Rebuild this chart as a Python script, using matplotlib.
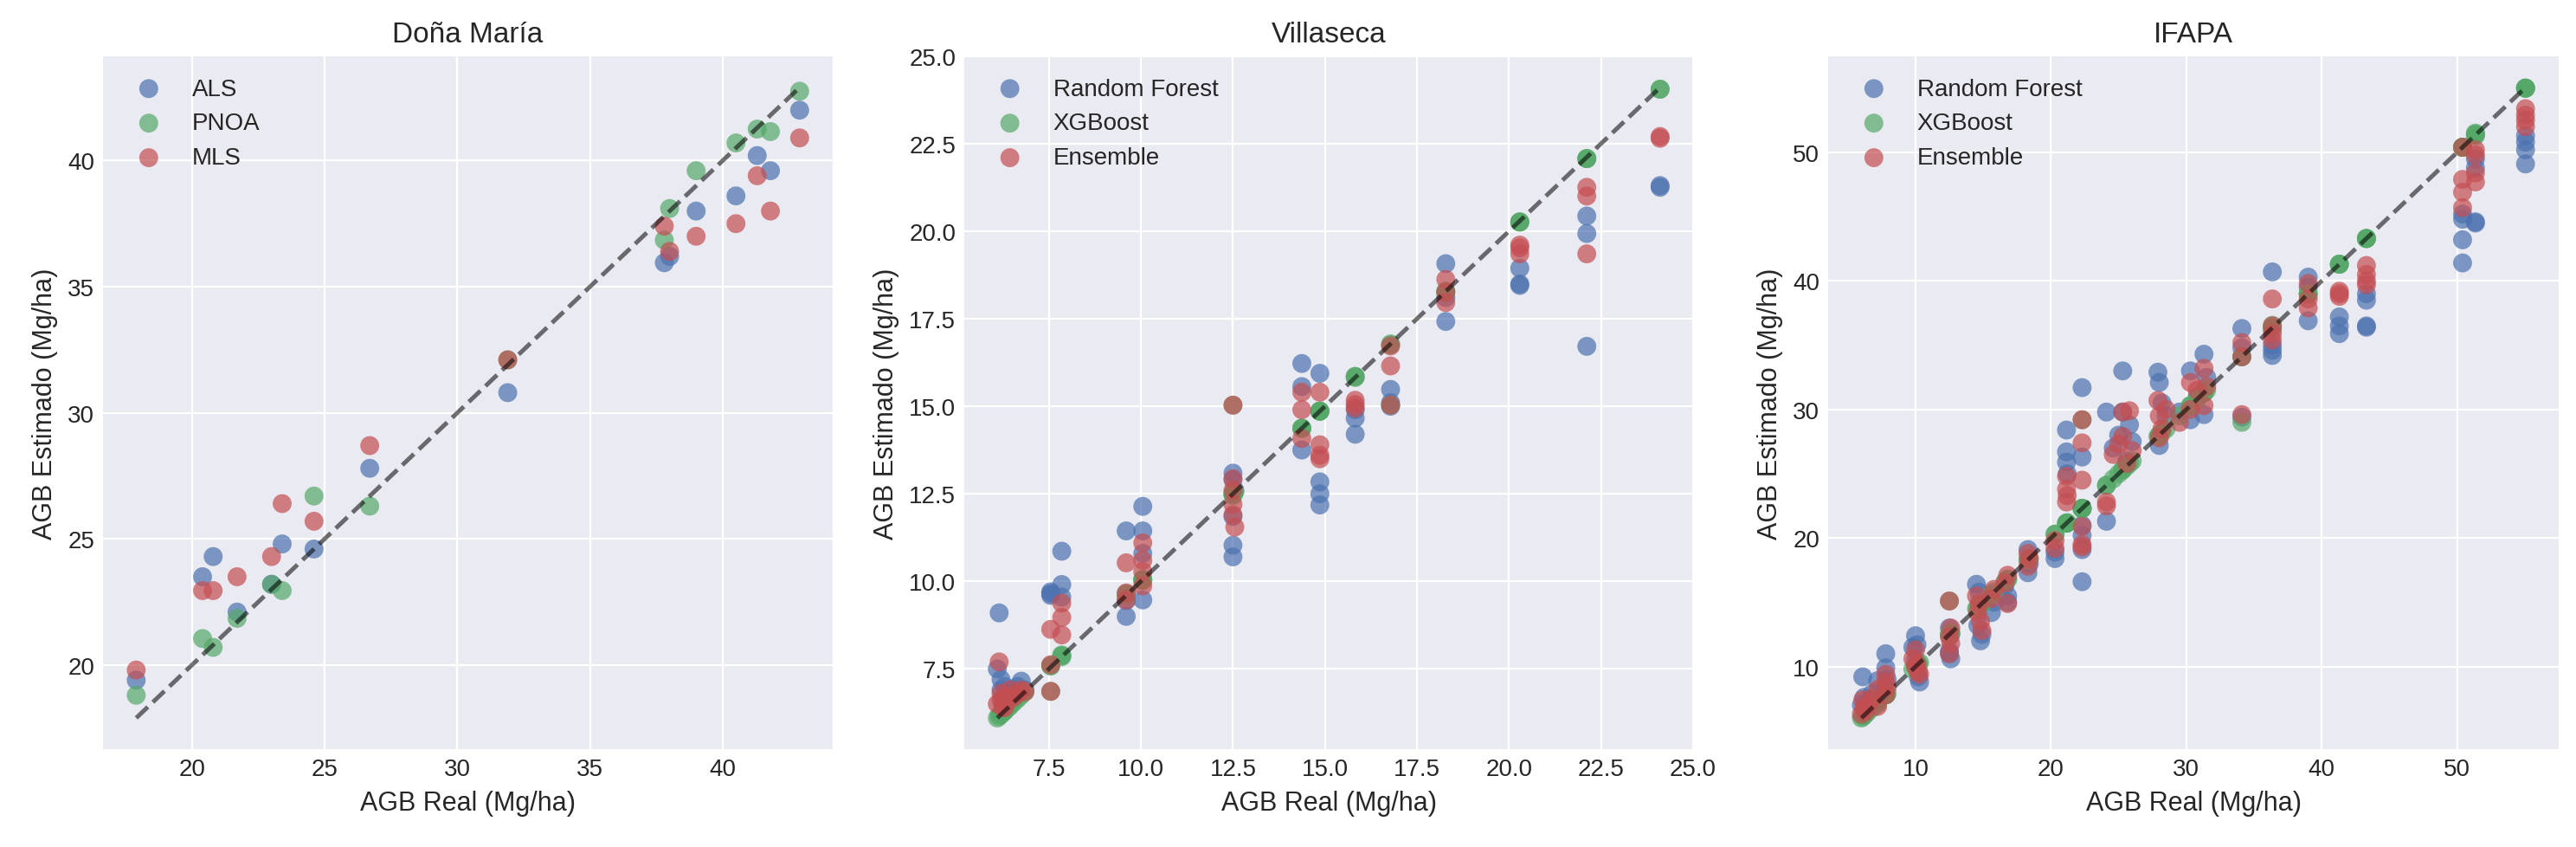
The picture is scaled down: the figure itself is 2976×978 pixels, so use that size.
import matplotlib
import numpy as np

matplotlib.use("Agg")
import matplotlib.pyplot as plt

# Doña María
dm_real = [17.9, 20.4, 20.8, 21.7, 23.0, 23.4, 24.6, 26.7, 31.9, 37.8, 38.0, 39.0, 40.5, 41.3, 41.8, 42.9]
dm_als = [19.4, 23.5, 24.3, 22.1, 23.2, 24.8, 24.6, 27.8, 30.8, 35.95, 36.2, 38.0, 38.6, 40.2, 39.6, 42.0]
dm_pnoa = [18.8, 21.05, 20.7, 21.85, 23.2, 22.95, 26.7, 26.3, 32.1, 36.85, 38.1, 39.6, 40.7, 41.25, 41.15, 42.75]
dm_mls = [19.8, 22.95, 22.95, 23.5, 24.3, 26.4, 25.7, 28.7, 32.1, 37.4, 36.4, 37.0, 37.5, 39.4, 38.0, 40.9]

# Villaseca
vil_real = [6.10, 6.15, 6.20, 6.20, 6.25, 6.30, 6.40, 6.45, 6.55, 6.65, 6.75, 6.85, 6.30,
            7.55, 7.55, 7.55, 7.85, 7.85, 7.85,
            9.60, 9.60, 9.60, 10.05, 10.05, 10.05, 10.05,
            12.50, 12.50, 12.50, 12.50, 12.50, 12.55,
            14.37, 14.37, 14.37, 14.86, 14.86, 14.86, 14.86,
            15.82, 15.82, 15.82, 16.78, 16.78, 16.78,
            18.28, 18.28, 18.28, 20.29, 20.29, 20.29,
            22.11, 22.11, 22.11, 24.10, 24.10]
vil_rf = [7.50, 9.10, 7.20, 6.90, 6.60, 7.00, 6.80, 6.70, 6.90, 7.00, 7.15, 6.90, 6.50,
          9.70, 9.65, 9.60, 10.86, 9.91, 9.55,
          11.44, 9.00, 9.45, 12.14, 11.44, 9.47, 10.80,
          13.09, 11.85, 11.03, 10.70, 12.90, 12.60,
          16.22, 15.56, 13.75, 15.94, 12.84, 12.50, 12.18,
          14.66, 14.20, 14.90, 15.48, 15.10, 15.00,
          19.07, 17.42, 18.10, 18.94, 18.49, 18.45,
          20.43, 19.93, 16.71, 21.25, 21.30]
vil_xgb = [6.10, 6.15, 6.20, 6.25, 6.25, 6.30, 6.40, 6.45, 6.55, 6.65, 6.75, 6.85, 6.30,
           7.58, 7.60, 6.86, 7.88, 7.90, 7.85,
           9.65, 9.60, 9.62, 10.05, 10.05, 10.02, 10.05,
           12.50, 12.45, 12.50, 12.50, 15.03, 12.55,
           14.37, 14.37, 14.37, 14.86, 14.86, 14.86, 14.86,
           15.85, 15.85, 15.82, 16.75, 15.03, 16.78,
           18.25, 18.28, 18.28, 20.26, 20.26, 20.26,
           22.07, 22.07, 22.07, 24.05, 24.05]
vil_ens = [6.50, 7.70, 6.80, 6.60, 6.40, 6.70, 6.60, 6.90, 6.70, 6.80, 6.90, 6.85, 6.40,
           8.63, 7.62, 6.86, 9.38, 8.97, 8.47,
           10.53, 9.67, 9.47, 11.10, 10.60, 10.28, 9.87,
           12.93, 12.60, 12.20, 11.90, 15.03, 11.55,
           15.40, 14.90, 14.08, 15.40, 13.90, 13.60, 13.50,
           15.17, 14.95, 15.05, 16.72, 16.15, 15.03,
           18.62, 17.96, 18.25, 19.52, 19.35, 19.60,
           21.25, 21.00, 19.35, 22.65, 22.70]

# IFAPA
ifapa_real = [6.0, 6.1, 6.2, 6.3, 6.5, 6.8, 7.2, 7.2, 7.8, 7.8, 7.8, 7.9,
              9.8, 10.0, 10.1, 10.2, 10.3, 10.0,
              12.5, 12.6, 12.6, 12.5, 12.5,
              14.5, 14.7, 14.8, 14.9, 14.6, 15.6, 15.8, 16.8, 16.8, 16.6,
              18.3, 18.3, 18.4, 20.3, 20.3,
              21.15, 21.15, 21.15, 21.2, 22.3, 22.3, 22.3, 22.3, 22.3, 22.3,
              24.1, 24.1, 24.6, 25.0, 25.3, 25.3, 25.6, 25.8, 26.0,
              27.9, 28.0, 28.0, 28.2, 28.5, 29.5, 30.3, 30.3, 30.8, 31.3, 31.3, 31.5,
              34.1, 34.1, 34.1, 36.35, 36.35, 36.35, 36.35,
              39.0, 39.0, 39.0, 41.3, 41.3, 41.3, 43.3, 43.3, 43.3, 43.3,
              50.4, 50.4, 50.4, 50.4, 51.35, 51.35, 51.35, 51.35, 55.05, 55.05, 55.05, 55.05]
ifapa_rf = [7.0, 9.2, 7.6, 6.6, 7.3, 7.9, 8.9, 7.4, 11.0, 9.9, 8.3, 9.0,
            11.5, 12.4, 11.7, 9.2, 8.8, 10.5,
            13.0, 12.5, 10.6, 11.2, 11.0,
            16.4, 15.8, 12.0, 12.5, 13.2, 14.2, 15.0, 15.0, 15.5, 16.3,
            19.1, 17.3, 18.0, 18.4, 18.9,
            28.4, 26.7, 25.9, 25.0, 31.7, 26.3, 16.6, 19.1, 20.2, 21.0,
            29.8, 21.3, 27.0, 28.0, 33.0, 29.8, 26.0, 28.8, 27.5,
            32.9, 32.1, 27.2, 30.5, 29.5, 29.8, 33.0, 29.2, 31.0, 34.3, 29.6, 32.5,
            36.3, 29.4, 34.8, 40.7, 34.2, 35.0, 34.6,
            40.3, 36.9, 39.5, 37.2, 36.5, 35.9, 38.5, 36.4, 39.0, 36.5,
            44.8, 43.2, 41.4, 45.2, 48.8, 44.6, 44.5, 49.5, 51.3, 50.2, 49.1, 50.8]
ifapa_xgb = [6.0, 6.1, 6.2, 6.3, 6.5, 6.8, 7.2, 7.1, 7.8, 7.8, 7.8, 7.9,
             9.8, 10.0, 10.1, 10.2, 10.3, 10.0,
             15.1, 12.6, 12.6, 12.5, 12.5,
             14.5, 14.7, 14.8, 14.9, 14.6, 15.6, 15.8, 16.8, 16.8, 16.6,
             18.3, 18.3, 18.4, 20.3, 20.3,
             21.15, 21.15, 21.15, 21.2, 29.2, 22.3, 22.3, 22.3, 22.3, 22.3,
             24.1, 24.1, 24.6, 25.0, 25.3, 25.3, 25.6, 25.8, 26.0,
             27.9, 28.0, 28.0, 28.2, 28.5, 29.5, 30.3, 30.3, 30.8, 31.3, 31.3, 31.5,
             34.1, 29.0, 34.1, 36.35, 36.35, 36.55, 36.3,
             39.0, 39.0, 39.0, 41.3, 41.3, 41.3, 43.3, 43.3, 43.3, 43.3,
             50.4, 50.4, 50.4, 50.4, 51.5, 51.3, 51.4, 51.4, 55.0, 55.0, 55.0, 55.0]
ifapa_ens = [6.3, 7.4, 6.8, 6.5, 7.0, 7.5, 8.2, 6.9, 9.4, 8.8, 7.8, 8.4,
             10.6, 11.3, 10.2, 9.6, 9.4, 10.0,
             15.1, 13.0, 11.8, 12.3, 11.0,
             15.5, 14.9, 13.5, 12.8, 14.2, 15.3, 16.0, 17.1, 14.9, 16.5,
             18.8, 17.8, 18.4, 19.8, 19.2,
             24.8, 23.8, 22.8, 23.3, 29.2, 27.4, 24.5, 20.9, 19.5, 19.3,
             22.8, 22.5, 26.5, 27.3, 29.8, 27.9, 25.8, 29.9, 26.8,
             30.7, 29.5, 27.8, 28.5, 30.0, 29.0, 32.1, 30.0, 31.5, 33.2, 30.3, 31.8,
             35.2, 29.6, 34.1, 38.6, 35.4, 36.5, 35.9,
             39.8, 37.9, 38.6, 39.0, 38.8, 39.2, 41.2, 40.5, 39.7, 40.0,
             50.4, 47.9, 46.9, 45.7, 50.2, 49.8, 47.7, 48.4, 53.4, 52.5, 52.0, 52.9]

colors = ['#4C72B0', '#55A868', '#C44E52']


def panel(ax, title, real, series, labels):
    for ys, lab, c in zip(series, labels, colors):
        ax.scatter(real, ys, s=62, color=c, alpha=0.7, label=lab, edgecolors='none')
    lo, hi = min(real), max(real)
    ax.plot([lo, hi], [lo, hi], 'k--', lw=1.8, alpha=0.55)
    ax.set_title(title, fontsize=12)
    ax.set_xlabel('AGB Real (Mg/ha)', fontsize=11)
    ax.set_ylabel('AGB Estimado (Mg/ha)', fontsize=11)
    ax.legend(loc='upper left', fontsize=10)


def main():
    plt.style.use('seaborn-v0_8-darkgrid')
    fig = plt.figure(figsize=(14.88, 4.895), dpi=200)
    ax1 = fig.add_axes([0.040, 0.115, 0.2833, 0.818])
    ax2 = fig.add_axes([0.3743, 0.115, 0.2830, 0.818])
    ax3 = fig.add_axes([0.7097, 0.115, 0.2836, 0.818])

    panel(ax1, 'Doña María', dm_real, [dm_als, dm_pnoa, dm_mls], ['ALS', 'PNOA', 'MLS'])
    models = ['Random Forest', 'XGBoost', 'Ensemble']
    panel(ax2, 'Villaseca', vil_real, [vil_rf, vil_xgb, vil_ens], models)
    panel(ax3, 'IFAPA', ifapa_real, [ifapa_rf, ifapa_xgb, ifapa_ens], models)

    fig.savefig('out.png', dpi=200)


if __name__ == "__main__":
    main()
